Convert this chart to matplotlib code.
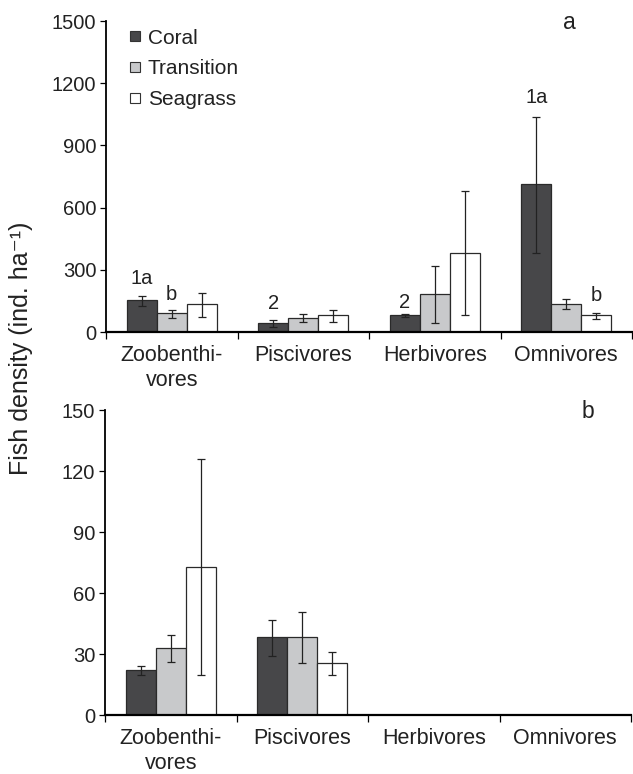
import matplotlib
matplotlib.use("Agg")
import matplotlib.pyplot as plt
import numpy as np
from matplotlib.lines import Line2D

plt.rcParams['font.family'] = ['Liberation Sans', 'DejaVu Sans']

categories = ["Zoobenthi-\nvores", "Piscivores", "Herbivores", "Omnivores"]
habitats = ["Coral", "Transition", "Seagrass"]
colors = ["#474749", "#c8c9cb", "#ffffff"]

# Panel a: mean and error (lower, upper)
a_coral = [153, 43, 80, 712]
a_coral_lo = [124, 22, 71, 383]
a_coral_hi = [174, 56, 87, 1035]
a_trans = [92, 69, 183, 137]
a_trans_lo = [69, 48, 43, 109]
a_trans_hi = [108, 85, 320, 159]
a_sea = [137, 80, 383, 80]
a_sea_lo = [74, 47, 80, 64]
a_sea_hi = [190, 106, 680, 92]

# Panel b
b_coral = [22.3, 38.2, 0, 0]
b_coral_lo = [19.7, 29.0, 0, 0]
b_coral_hi = [24.3, 46.7, 0, 0]
b_trans = [33.1, 38.2, 0, 0]
b_trans_lo = [25.9, 25.4, 0, 0]
b_trans_hi = [39.2, 50.5, 0, 0]
b_sea = [72.8, 25.4, 0, 0]
b_sea_lo = [19.5, 19.5, 0, 0]
b_sea_hi = [125.7, 31.1, 0, 0]

a_yticks = [0, 300, 600, 900, 1200, 1500]
b_yticks = [0, 30, 60, 90, 120, 150]

# significance labels (panel a): (category index, habitat index, text, y)
a_labels = [(0, 0, "1a", 258), (0, 1, "b", 182), (1, 0, "2", 140),
            (2, 0, "2", 143), (3, 0, "1a", 1130), (3, 2, "b", 176)]

fig = plt.figure(figsize=(6.33, 7.74), dpi=100)
ax1 = fig.add_axes([0.1675, 0.571, 0.831, 0.4018])
ax2 = fig.add_axes([0.1659, 0.0762, 0.831, 0.394])

width = 0.228
x = np.arange(len(categories)) + 0.5
offsets = [-width, 0, width]
FS_TICK = 14.5
FS_CAT = 15.5


def draw(ax, means, los, his, yticks):
    for k, (m, lo, hi) in enumerate(zip(means, los, his)):
        m = np.array(m, float)
        lo = np.array(lo, float)
        hi = np.array(hi, float)
        xs = x + offsets[k]
        ax.bar(xs, m, width, color=colors[k], edgecolor="#2a2a2a", linewidth=0.9, zorder=2)
        mask = m > 0
        ax.errorbar(xs[mask], m[mask], yerr=[m[mask] - lo[mask], hi[mask] - m[mask]],
                    fmt='none', ecolor="#222222", elinewidth=0.9, capsize=3, capthick=0.9, zorder=3)
    ax.set_xlim(0, 4)
    ax.set_ylim(yticks[0], yticks[-1])
    ax.set_yticks(yticks)
    ax.set_xticks([0, 1, 2, 3, 4])
    ax.set_xticklabels([])
    ax.set_xticks(x, minor=True)
    ax.set_xticklabels(categories, minor=True, fontsize=FS_CAT, linespacing=1.3,
                       color="#222222")
    ax.tick_params(axis='x', which='minor', length=0, pad=9)
    ax.tick_params(axis='x', which='major', length=5, width=0.9, direction='out')
    ax.tick_params(axis='y', length=4, width=0.9, labelsize=FS_TICK, pad=3,
                   labelcolor="#222222")
    for s in ['top', 'right']:
        ax.spines[s].set_visible(False)
    ax.spines['left'].set_linewidth(1.3)
    ax.spines['bottom'].set_linewidth(1.6)


draw(ax1, [a_coral, a_trans, a_sea], [a_coral_lo, a_trans_lo, a_sea_lo],
     [a_coral_hi, a_trans_hi, a_sea_hi], a_yticks)
draw(ax2, [b_coral, b_trans, b_sea], [b_coral_lo, b_trans_lo, b_sea_lo],
     [b_coral_hi, b_trans_hi, b_sea_hi], b_yticks)

for ci, hi_, txt, yv in a_labels:
    ax1.text(x[ci] + offsets[hi_], yv, txt, ha='center', va='center', fontsize=FS_TICK,
             color="#222222")

ax1.text(0.881, 0.994, "a", transform=ax1.transAxes, ha='center', va='center',
         fontsize=16.5, color="#222222")
ax2.text(0.918, 0.995, "b", transform=ax2.transAxes, ha='center', va='center',
         fontsize=16.5, color="#222222")

handles = [Line2D([], [], linestyle='none', marker='s', markersize=6.5,
                  markerfacecolor=c, markeredgecolor="#333333", markeredgewidth=0.8)
           for c in colors]
leg = ax1.legend(handles, habitats, loc='upper left', bbox_to_anchor=(0.039, 0.976),
                 frameon=False, fontsize=15, handlelength=0.8, handletextpad=0.22,
                 labelspacing=0.57, borderaxespad=0, borderpad=0)
for t in leg.get_texts():
    t.set_color("#222222")

fig.text(21 / 633, 1 - 348 / 774, "Fish density (ind. ha\u207b\u00b9)", rotation=90,
         ha='center', va='center', fontsize=18, color="#222222")

fig.savefig("out.png", dpi=100)
